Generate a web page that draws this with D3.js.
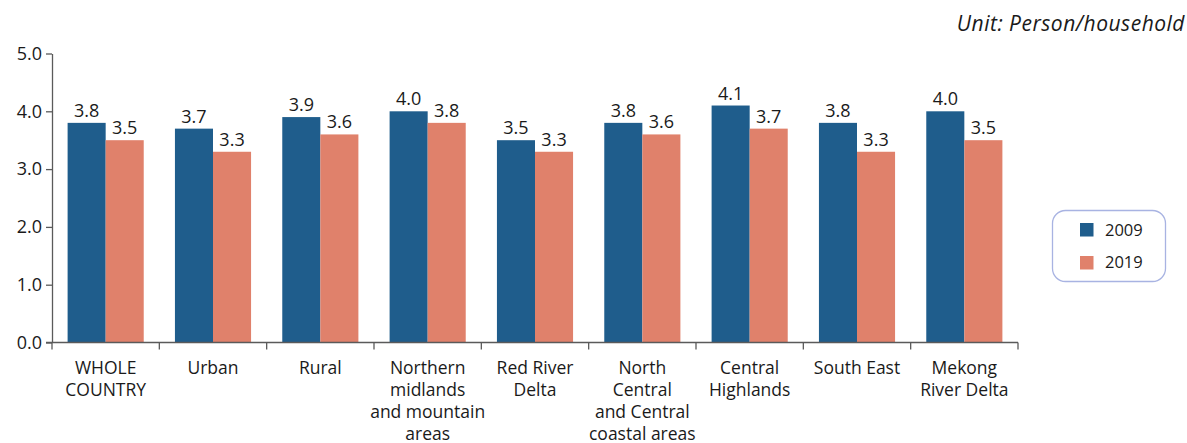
<!DOCTYPE html>
<html><head><meta charset="utf-8">
<script src="https://cdn.jsdelivr.net/npm/d3@7/dist/d3.min.js"></script>
<style>body{margin:0;background:#fff}svg{display:block}text{font-family:"Open Sans",sans-serif;fill:#1a1a1a}</style>
</head><body><svg id="c" width="1187" height="443"></svg>
<script>
const categories = [["WHOLE","COUNTRY"],["Urban"],["Rural"],["Northern","midlands","and mountain","areas"],["Red River","Delta"],["North","Central","and Central","coastal areas"],["Central","Highlands"],["South East"],["Mekong","River Delta"]];
const years = ["2009","2019"];
const values2009 = [3.8,3.7,3.9,4.0,3.5,3.8,4.1,3.8,4.0];
const values2019 = [3.5,3.3,3.6,3.8,3.3,3.6,3.7,3.3,3.5];
const yTicks = [0,1,2,3,4,5];
const colors = ["#1F5D8C","#E0816B"];

(function(){
const svg = d3.select("#c");
const mLeft = 52, mRight = 1018, mTop = 53.5, mBottom = 342.5;
const x = d3.scaleBand().domain(d3.range(categories.length)).range([mLeft, mRight]).paddingInner(0).paddingOuter(0);
const y = d3.scaleLinear().domain([0,5]).range([mBottom, mTop]);
const inner = d3.scaleBand().domain(years).range([0, x.bandwidth()]).paddingInner(0).paddingOuter(0.41);

const series = [values2009, values2019];
const g = svg.append("g");
categories.forEach((c,i)=>{
  years.forEach((yr,j)=>{
    const v = series[j][i];
    const bx = x(i)+inner(yr);
    g.append("rect").attr("x",bx).attr("y",y(v)).attr("width",inner.bandwidth()).attr("height",y(0)-y(v)).attr("fill",colors[j]);
    g.append("text").attr("x",bx+inner.bandwidth()/2).attr("y",y(v)-6).attr("text-anchor","middle").attr("font-size",18).text(v.toFixed(1));
  });
});

const ya = svg.append("g").attr("transform",`translate(${mLeft},0)`).call(d3.axisLeft(y).tickValues(yTicks).tickFormat(d3.format(".1f")).tickSize(6).tickSizeOuter(0));
ya.attr("font-family",null).attr("font-size",null);
ya.select(".domain").attr("stroke","#5a5a5a").attr("stroke-width",1.3);
ya.selectAll(".tick line").attr("stroke","#5a5a5a").attr("stroke-width",1.3);
ya.selectAll(".tick text").attr("font-size",18).attr("fill","#1a1a1a").attr("x",-10);

const xa = svg.append("g").attr("transform",`translate(0,${mBottom})`);
xa.append("line").attr("x1",mLeft-6).attr("x2",mRight).attr("stroke","#5a5a5a").attr("stroke-width",1.3);
d3.range(categories.length+1).forEach(i=>{
  const tx = i<categories.length ? x(i) : mRight;
  xa.append("line").attr("x1",tx).attr("x2",tx).attr("y1",0).attr("y2",7).attr("stroke","#5a5a5a").attr("stroke-width",1.3);
});
categories.forEach((c,i)=>{
  const t = xa.append("text").attr("text-anchor","middle").attr("font-size",17.5).attr("y",31);
  c.forEach((line,k)=>t.append("tspan").attr("x",x(i)+x.bandwidth()/2).attr("dy",k===0?0:22.3).text(line));
});

svg.append("text").attr("x",1185).attr("y",31).attr("text-anchor","end").attr("font-size",21).attr("font-style","italic").attr("letter-spacing",0.5).text("Unit: Person/household");

const lg = svg.append("g");
lg.append("rect").attr("x",1052.5).attr("y",210.5).attr("width",113).attr("height",71).attr("rx",13).attr("fill","#fff").attr("stroke","#A8B3E2").attr("stroke-width",1.3);
years.forEach((yr,j)=>{
  lg.append("rect").attr("x",1080).attr("y",223+j*33).attr("width",13.5).attr("height",13.5).attr("fill",colors[j]);
  lg.append("text").attr("x",1105).attr("y",236+j*32).attr("font-size",16.5).text(yr);
});
})();
</script></body></html>
